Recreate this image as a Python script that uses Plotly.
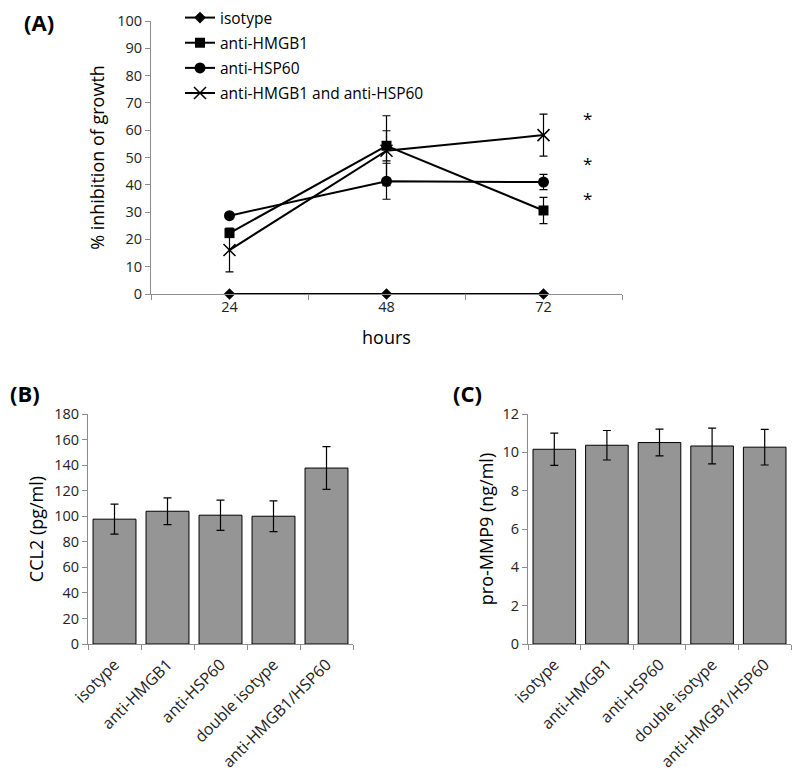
import plotly.graph_objects as go

# ---------- Panel A data ----------
hours = ["24", "48", "72"]
isotype = [0, 0, 0]
anti_hmgb1 = [22.3, 54.3, 30.6]
anti_hmgb1_err = [1.5, 5.5, 4.8]
anti_hsp60 = [28.7, 41.3, 41.0]
anti_hsp60_err = [0.8, 6.6, 2.8]
combo = [16.1, 52.5, 58.2]
combo_err = [8.0, 12.8, 7.7]
asterisk_y = [64.8, 48.3, 35.3]

# ---------- Panel B/C data ----------
groups = ["isotype", "anti-HMGB1", "anti-HSP60", "double isotype", "anti-HMGB1/HSP60"]
ccl2 = [97.7, 103.9, 100.8, 100.0, 137.7]
ccl2_err = [11.7, 10.5, 11.8, 12.0, 16.7]
mmp9 = [10.16, 10.37, 10.51, 10.33, 10.27]
mmp9_err = [0.84, 0.77, 0.70, 0.93, 0.93]

FONT = "Open Sans"
AXIS_GREY = "#8c8c8c"
OFF = 8  # page body margin
W, H = 800 - OFF, 775 - OFF

def px_x(p):
    return (p - OFF) / W

def px_y(p):
    return 1 - (p - OFF) / H

fig = go.Figure()

line_style = dict(color="black", width=2)
eb = dict(type="data", thickness=1.2, width=4, color="black")

fig.add_trace(go.Scatter(x=hours, y=isotype, name="isotype", mode="lines+markers", legendgroup="a",
                         line=line_style, marker=dict(symbol="diamond", size=9, color="black"),
                         xaxis="x", yaxis="y", cliponaxis=False))
fig.add_trace(go.Scatter(x=hours, y=anti_hmgb1, name="anti-HMGB1", mode="lines+markers", legendgroup="b",
                         line=line_style, marker=dict(symbol="square", size=10, color="black"),
                         error_y=dict(array=anti_hmgb1_err, **eb), xaxis="x", yaxis="y"))
fig.add_trace(go.Scatter(x=hours, y=anti_hsp60, name="anti-HSP60", mode="lines+markers", legendgroup="c",
                         line=line_style, marker=dict(symbol="circle", size=11, color="black"),
                         error_y=dict(array=anti_hsp60_err, **eb), xaxis="x", yaxis="y"))
fig.add_trace(go.Scatter(x=hours, y=combo, name="anti-HMGB1 and anti-HSP60", mode="lines+markers",
                         legendgroup="d", line=line_style,
                         marker=dict(symbol="x-thin-open", size=12, color="black",
                                     line=dict(color="black", width=1.5)),
                         error_y=dict(array=combo_err, **eb), xaxis="x", yaxis="y"))

bar_style = dict(marker=dict(color="#959595", line=dict(color="black", width=1)))
fig.add_trace(go.Bar(x=groups, y=ccl2, showlegend=False,
                     error_y=dict(array=ccl2_err, **eb), xaxis="x2", yaxis="y2", **bar_style))
fig.add_trace(go.Bar(x=groups, y=mmp9, showlegend=False,
                     error_y=dict(array=mmp9_err, **eb), xaxis="x3", yaxis="y3", **bar_style))

tickfont = dict(family=FONT, size=14.5, color="#222222")
rot_tickfont = dict(family=FONT, size=16, color="#222222")
titlefont = dict(family=FONT, size=18, color="black")

common_x = dict(showline=True, linecolor=AXIS_GREY, linewidth=1, ticks="outside",
                tickcolor=AXIS_GREY, ticklen=5, tickson="boundaries", showgrid=False,
                zeroline=False, type="category", automargin=False)
common_y = dict(showline=True, linecolor=AXIS_GREY, linewidth=1, ticks="outside",
                tickcolor=AXIS_GREY, ticklen=5, showgrid=False, zeroline=False,
                tickfont=tickfont, automargin=False)

fig.update_layout(
    width=W, height=H,
    margin=dict(l=0, r=0, t=0, b=0, autoexpand=False),
    paper_bgcolor="white", plot_bgcolor="white",
    font=dict(family=FONT, color="black"),
    bargap=0.19,
    xaxis=dict(domain=[px_x(151), px_x(622)], anchor="y", tickfont=tickfont, range=[-0.5, 2.5],
               title=dict(text="hours", font=titlefont, standoff=15), **common_x),
    yaxis=dict(domain=[px_y(294), px_y(21)], anchor="x", range=[0, 100], dtick=10,
               title=dict(text="% inhibition of growth", font=titlefont, standoff=7), **common_y),
    xaxis2=dict(domain=[px_x(88), px_x(353)], anchor="y2", tickangle=-45, tickfont=rot_tickfont,
                range=[-0.5, 4.5], ticklabelstandoff=4, **common_x),
    yaxis2=dict(domain=[px_y(644), px_y(414)], anchor="x2", range=[0, 180], dtick=20,
                title=dict(text="CCL2 (pg/ml)", font=titlefont, standoff=5), **common_y),
    xaxis3=dict(domain=[px_x(528), px_x(791)], anchor="y3", tickangle=-45, tickfont=rot_tickfont,
                range=[-0.5, 4.5], ticklabelstandoff=4, **common_x),
    yaxis3=dict(domain=[px_y(644), px_y(414)], anchor="x3", range=[0, 12], dtick=2,
                title=dict(text="pro-MMP9 (ng/ml)", font=titlefont, standoff=4), **common_y),
    legend=dict(x=px_x(180), y=px_y(1), xanchor="left", yanchor="top",
                bgcolor="rgba(0,0,0,0)", font=dict(family=FONT, size=15.5, color="black"),
                tracegroupgap=2, itemwidth=30),
)

annotations = []
for yv in asterisk_y:
    annotations.append(dict(x=px_x(587), y=yv, xref="paper", yref="y", text="*",
                            showarrow=False, yshift=-1, xanchor="center", yanchor="middle",
                            font=dict(family=FONT, size=17, color="black")))
for label, xp, yp in [("(A)", 39, 22), ("(B)", 25, 393), ("(C)", 467, 393)]:
    annotations.append(dict(x=px_x(xp), y=px_y(yp), xref="paper", yref="paper", text="<b>" + label + "</b>",
                            showarrow=False, xanchor="center", yanchor="middle",
                            font=dict(family=FONT, size=22, color="black")))
fig.update_layout(annotations=annotations)

fig.write_html("out.html")
